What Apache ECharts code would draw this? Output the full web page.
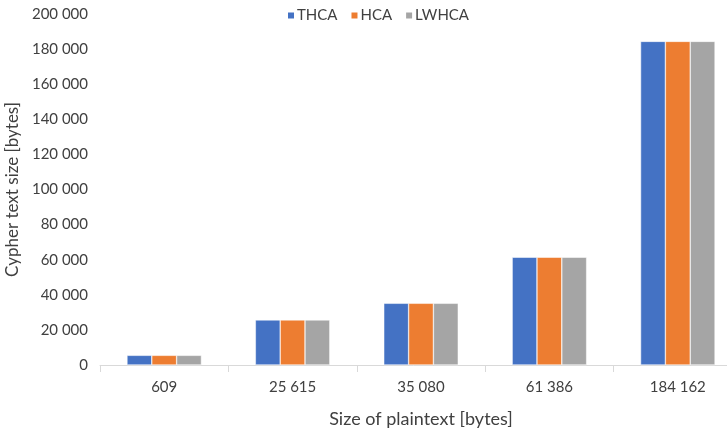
<!DOCTYPE html>
<html><head><meta charset="utf-8">
<script src="https://cdn.jsdelivr.net/npm/echarts@6/dist/echarts.min.js"></script>
<style>html,body{margin:0;padding:0;background:#fff}#c{width:727px;height:429px}</style>
</head><body><div id="c"></div>
<script>
var categories = ['609', '25 615', '35 080', '61 386', '184 162'];
var seriesNames = ['THCA', 'HCA', 'LWHCA'];
var thca = [5500, 25700, 35150, 61400, 184400];
var hca = [5500, 25700, 35150, 61400, 184400];
var lwhca = [5500, 25700, 35150, 61400, 184400];
var colors = ['#4472C4', '#ED7D31', '#A5A5A5'];
var font = 'Lato, "Open Sans", sans-serif';
function fmt(v){ return String(v).replace(/\B(?=(\d{3})+(?!\d))/g, ' '); }
var chart = echarts.init(document.getElementById('c'));
var vals = [thca, hca, lwhca];
chart.setOption({
  animation: false,
  textStyle: {fontFamily: font},
  legend: {
    top: 3, left: 281,
    itemWidth: 8, itemHeight: 8, itemGap: 12,
    icon: 'rect',
    textStyle: {fontFamily: font, fontSize: 15, color: '#404040', padding: [0,0,0,-3]},
    data: seriesNames
  },
  grid: {left: 100, right: -15, top: 14, bottom: 64, containLabel: false, outerBoundsMode: 'none'},
  xAxis: {
    type: 'category', data: categories,
    name: 'Size of plaintext [bytes]', nameLocation: 'middle', nameGap: 45,
    nameTextStyle: {fontFamily: font, fontSize: 18, color: '#404040'},
    axisLine: {lineStyle: {color: '#D9D9D9', width: 1}},
    axisTick: {show: true, length: 7, lineStyle: {color: '#D9D9D9'}},
    axisLabel: {fontFamily: font, fontSize: 15, color: '#404040', margin: 15}
  },
  yAxis: {
    type: 'value', min: 0, max: 200000, interval: 20000,
    name: 'Cypher text size [bytes]', nameLocation: 'middle', nameGap: 76,
    nameTextStyle: {fontFamily: font, fontSize: 17, color: '#404040'},
    axisLine: {show: false}, axisTick: {show: false},
    splitLine: {show: false},
    axisLabel: {fontFamily: font, fontSize: 15, color: '#404040', margin: 12, formatter: fmt}
  },
  series: seriesNames.map(function(n, i){
    return {
      name: n, type: 'bar', data: vals[i],
      barGap: '0%', barCategoryGap: '42%',
      itemStyle: {color: colors[i], borderColor: '#ffffff', borderWidth: 0.5}
    };
  })
});
</script></body></html>
